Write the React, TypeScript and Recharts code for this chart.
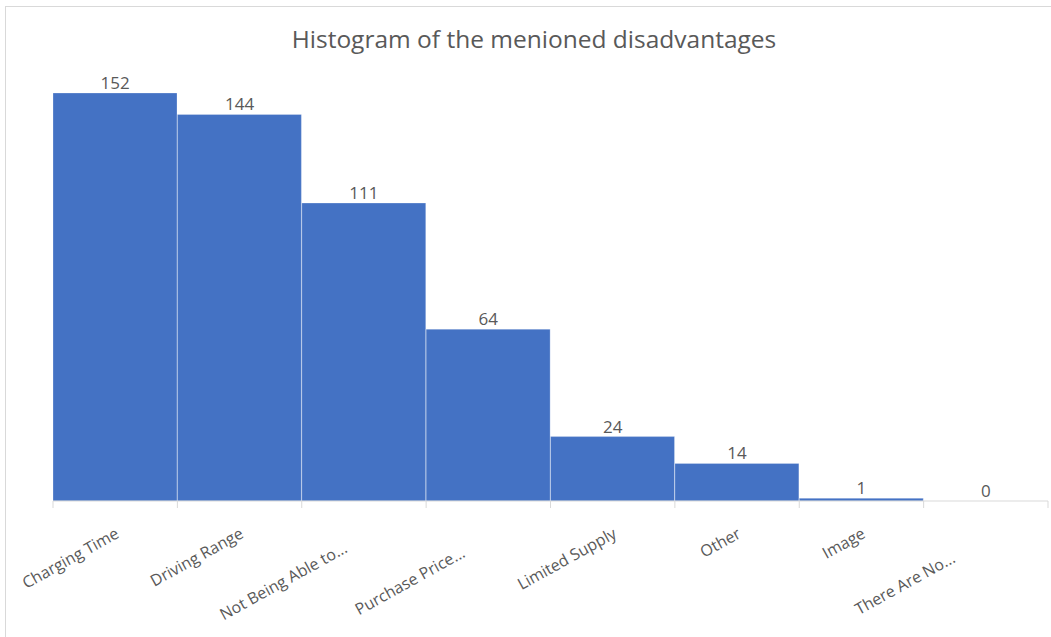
import React from 'react';
import { ComposedChart, Bar, Line, XAxis, YAxis, LabelList } from 'recharts';

// Disadvantage categories and how often each was mentioned
const categories = [
  'Charging Time',
  'Driving Range',
  'Not Being Able to...',
  'Purchase Price...',
  'Limited Supply',
  'Other',
  'Image',
  'There Are No...',
];
const mentions = [152, 144, 111, 64, 24, 14, 1, 0];

const title = 'Histogram of the menioned disadvantages';

const data = categories.map((name, i) => ({ name, count: mentions[i] }));

const W = 1051;
const H = 637;
const MARGIN = { top: 93, right: 3, bottom: 0, left: 53 };
const AXIS_H = 136;
const FONT = '"Open Sans", "Segoe UI", sans-serif';
const TEXT = '#595959';
const AXIS = '#d9d9d9';
const BAND = (W - MARGIN.left - MARGIN.right) / categories.length;
const ANGLE = -29;

// Long labels are truncated and sit further along the slant
const labelShift: Record<string, number> = {
  'Not Being Able to...': 25,
  'Purchase Price...': 33,
  'There Are No...': 42,
};

const CategoryTick = (props: any) => {
  const { x, y, payload, index } = props;
  const label: string = payload.value;
  const s = labelShift[label] || 0;
  const left = x - BAND / 2;
  const tx = x + 5 - s * 0.82;
  const ty = y + 28 + s * 0.58;
  return (
    <g>
      <line x1={left} y1={y - 8} x2={left} y2={y - 1} stroke={AXIS} strokeWidth={1} />
      {index === categories.length - 1 && (
        <line x1={left + BAND} y1={y - 8} x2={left + BAND} y2={y - 1} stroke={AXIS} strokeWidth={1} />
      )}
      <text
        x={tx}
        y={ty}
        textAnchor="end"
        fontFamily={FONT}
        fontSize={16}
        fill={TEXT}
        transform={`rotate(${ANGLE} ${tx} ${ty})`}
      >
        {label}
      </text>
    </g>
  );
};

const ValueLabel = (props: any) => {
  const { x, y, value } = props;
  return (
    <text x={x} y={y - 4} textAnchor="middle" fontFamily={FONT} fontSize={17} fill={TEXT}>
      {value}
    </text>
  );
};

export default function App() {
  return (
    <div style={{ position: 'absolute', left: 0, top: 0, width: W, height: H, background: '#fff', overflow: 'hidden' }}>
      <div
        style={{
          position: 'absolute',
          left: 5,
          top: 6,
          width: W,
          height: H,
          borderLeft: `1px solid ${AXIS}`,
          borderTop: `1px solid ${AXIS}`,
        }}
      />
      <div
        style={{
          position: 'absolute',
          left: 0,
          width: 1068,
          top: 21,
          textAlign: 'center',
          fontFamily: FONT,
          fontSize: 24.5,
          color: TEXT,
          lineHeight: '36px',
        }}
      >
        {title}
      </div>
      <div style={{ position: 'absolute', left: 0, top: 0 }}>
        <ComposedChart width={W} height={H} data={data} margin={MARGIN} barCategoryGap={0}>
          <YAxis hide domain={[0, 152]} />
          <XAxis
            dataKey="name"
            height={AXIS_H}
            interval={0}
            stroke={AXIS}
            tickLine={false}
            tick={<CategoryTick />}
          />
          <Bar
            dataKey="count"
            fill="#4472C4"
            stroke="#ffffff"
            strokeOpacity={0.25}
            strokeWidth={1}
            isAnimationActive={false}
          />
          {/* invisible series that carries the value labels, including the zero */}
          <Line
            dataKey="count"
            stroke="none"
            dot={false}
            activeDot={false}
            isAnimationActive={false}
          >
            <LabelList dataKey="count" content={<ValueLabel />} />
          </Line>
        </ComposedChart>
      </div>
    </div>
  );
}
